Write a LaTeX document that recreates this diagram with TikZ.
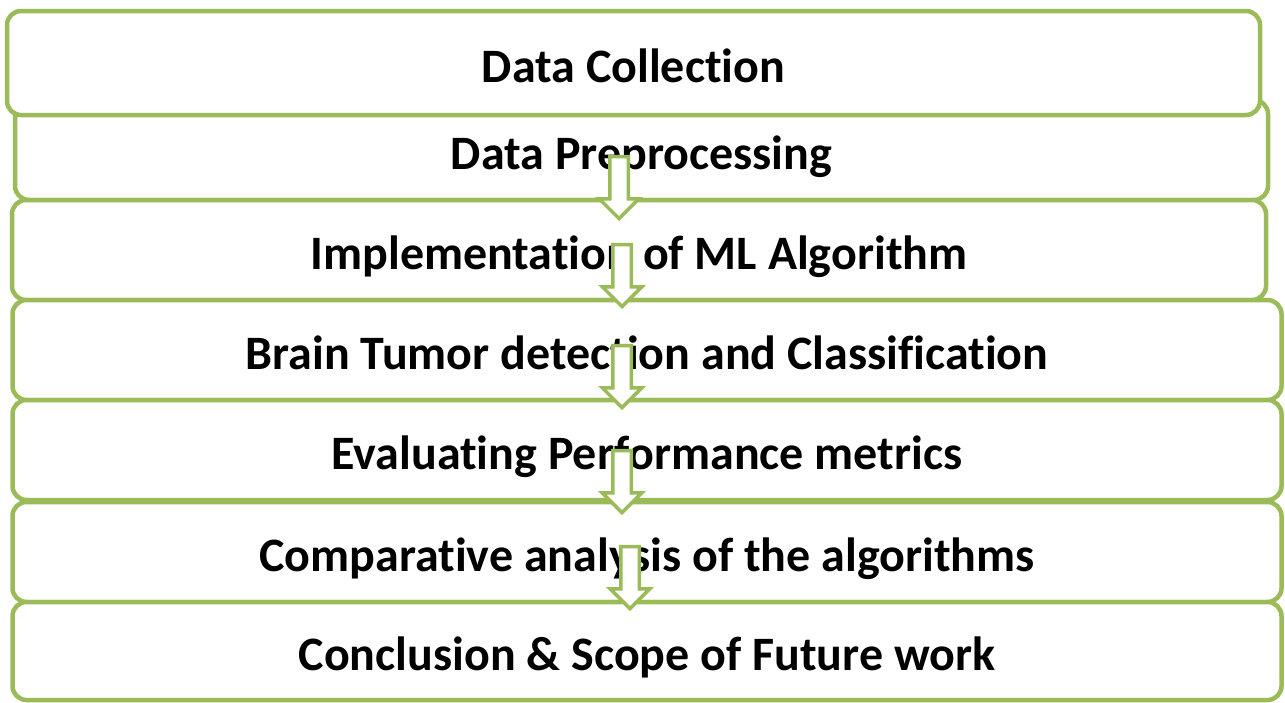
\documentclass[tikz,border=0pt]{standalone}
\usepackage{fontspec}
\setmainfont{Carlito}[RawFeature=-liga]
\usetikzlibrary{shapes.arrows}
\definecolor{leafgreen}{RGB}{155,187,89}

\begin{document}
\begin{tikzpicture}[x=1pt, y=1pt, line join=round, font=\fontsize{48}{52}\selectfont\bfseries]
	\tikzset{stage/.style={draw=leafgreen, line width=4.5pt, fill=white, rounded corners=14pt, inner sep=0pt,
			text height=44pt, text depth=5pt}}
	\tikzset{down arrow/.style={single arrow, draw=leafgreen, line width=3.5pt, fill=white, line join=miter,
			shape border rotate=270, inner sep=7.5pt, single arrow head extend=10.5pt, minimum height=62pt, anchor=tip}}
	\useasboundingbox (0,0) rectangle (1285,-702);
	% stacked stages, the second one sits behind the first
	\node[stage, minimum width=1253pt, minimum height=100pt] (prep) at (641.5,-150) {Data Preprocessing};
	\node[stage, minimum width=1253pt, minimum height=104pt] (collect) at (633.5,-63) {Data Collection};
	\node[stage, minimum width=1254pt, minimum height=100pt] (impl) at (639,-250) {Implementation of ML Algorithm};
	\node[stage, minimum width=1269pt, minimum height=100pt] (detect) at (647,-350) {Brain Tumor detection and Classification};
	\node[stage, minimum width=1269pt, minimum height=100pt] (eval) at (647,-450) {Evaluating Performance metrics};
	\node[stage, minimum width=1269pt, minimum height=100pt] (compare) at (647,-552) {Comparative analysis of the algorithms};
	\node[stage, minimum width=1269pt, minimum height=98pt] (future) at (647,-651) {Conclusion \& Scope of Future work};
	% hollow arrows across the borders
	\node[down arrow] (a1) at (619,-221) {};
	\node[down arrow] (a2) at (622,-309) {};
	\node[down arrow] (a3) at (622,-410) {};
	\node[down arrow] (a4) at (622,-515) {};
	\node[down arrow] (a5) at (630,-611) {};
\end{tikzpicture}
\end{document}
